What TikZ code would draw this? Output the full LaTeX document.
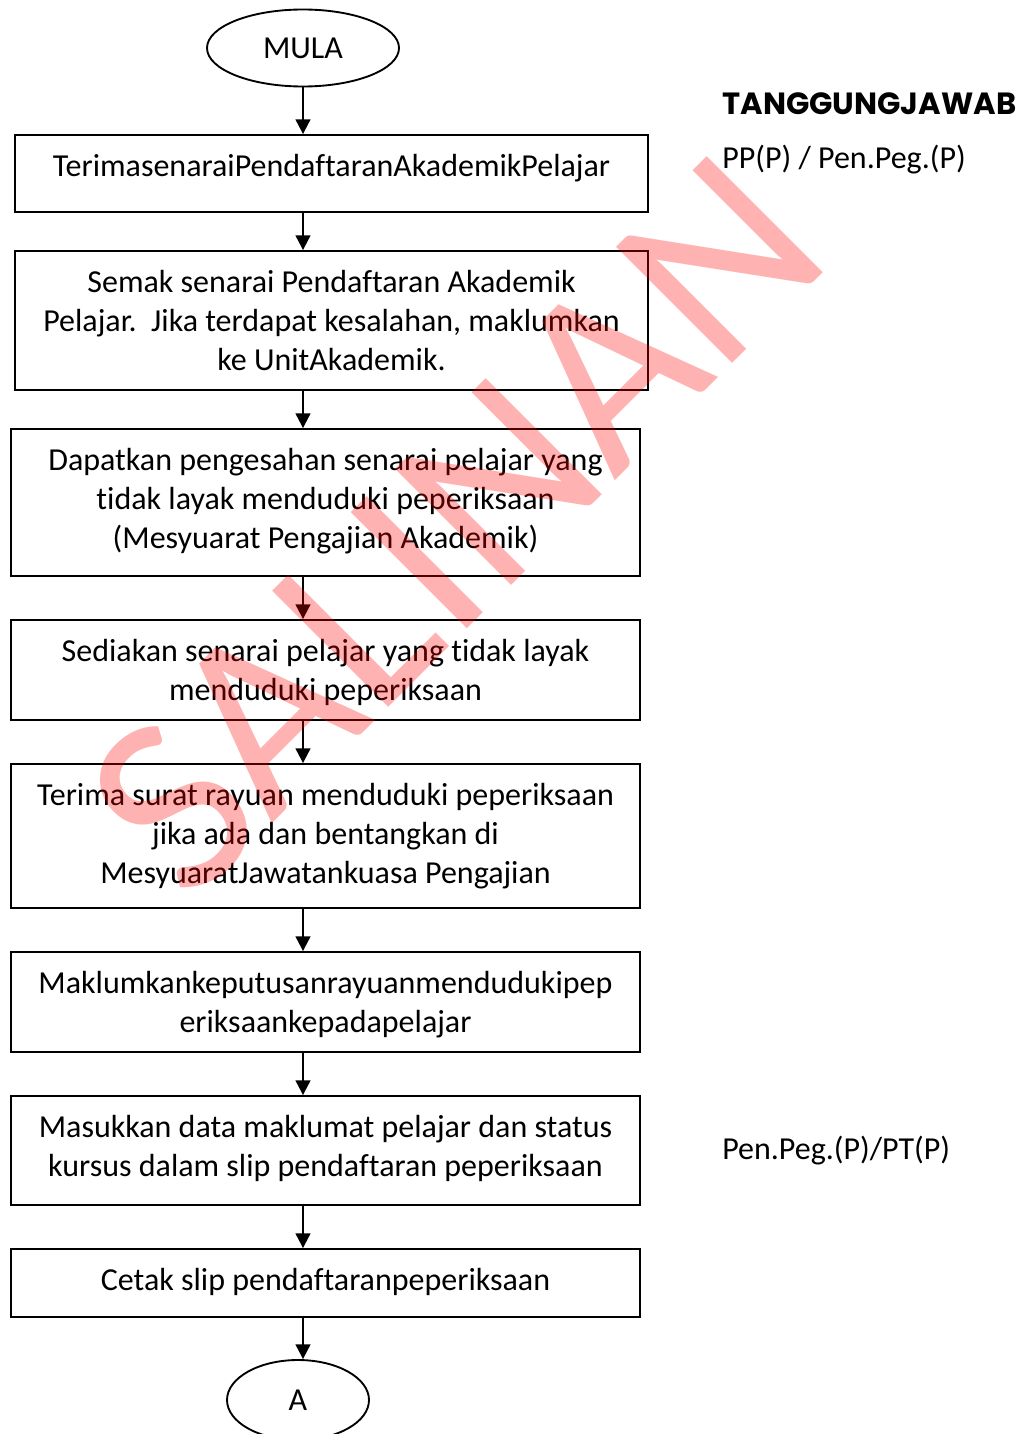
\documentclass[tikz,border=0pt]{standalone}
\usepackage{fontspec}
\setmainfont{Carlito}[Ligatures=NoCommon]
\newfontfamily\headfont{Poppins}
\usetikzlibrary{shapes.geometric,arrows.meta,calc,fit}
\begin{document}
\begin{tikzpicture}[x=0.75pt,y=-0.75pt,
  box/.style={draw, line width=1.4pt, inner sep=0pt},
  term/.style={draw, ellipse, line width=1.4pt, inner sep=0pt, font=\fontsize{24}{29.25}\selectfont},
  flow/.style={-{Triangle[length=11pt,width=11pt]}, line width=1.6pt},
  txt/.style={font=\fontsize{24}{29.25}\selectfont, inner sep=0pt, anchor=base},
  side/.style={font=\fontsize{24}{29.25}\selectfont, inner sep=0pt, anchor=base west},
  wmark/.style={text=red, text opacity=0.3, inner sep=0pt, font=\fontsize{192}{192}\selectfont}]
\useasboundingbox (0,0) rectangle (1023,1434);
\clip (0,0) rectangle (1023,1434);

\node[term, minimum width=144pt, minimum height=57.75pt] (m) at (303,48) {MULA};

\node[box, fit={(15,135)(648,212)}] (b1) {};
\node[box, fit={(15,251)(648,390)}] (b2) {};
\node[box, fit={(11,429)(640,576)}] (b3) {};
\node[box, fit={(11,620)(640,720)}] (b4) {};
\node[box, fit={(11,764)(640,908)}] (b5) {};
\node[box, fit={(11,952)(640,1052)}] (b6) {};
\node[box, fit={(11,1096)(640,1205)}] (b7) {};
\node[box, fit={(11,1249)(640,1317)}] (b8) {};

\node[term, minimum width=106.5pt, minimum height=60pt] (a) at (298,1400) {A};

\node[txt] (t1) at ($(b1.north)+(0,42)$) {\parbox[t]{500pt}{\centering TerimasenaraiPendaftaranAkademikPelajar}};
\node[txt] (t2) at ($(b2.north)+(0,42)$) {\parbox[t]{500pt}{\centering Semak senarai Pendaftaran Akademik\\Pelajar.\ \ Jika terdapat kesalahan, maklumkan\\ke UnitAkademik.}};
\node[txt] (t3) at ($(b3.north)+(0,42)$) {\parbox[t]{500pt}{\centering Dapatkan pengesahan senarai pelajar yang\\tidak layak menduduki peperiksaan\\(Mesyuarat Pengajian Akademik)}};
\node[txt] (t4) at ($(b4.north)+(0,42)$) {\parbox[t]{500pt}{\centering Sediakan senarai pelajar yang tidak layak\\menduduki peperiksaan}};
\node[txt] (t5) at ($(b5.north)+(0,42)$) {\parbox[t]{500pt}{\centering Terima surat rayuan menduduki peperiksaan\\jika ada dan bentangkan di\\MesyuaratJawatankuasa Pengajian}};
\node[txt] (t6) at ($(b6.north)+(0,42)$) {\parbox[t]{500pt}{\centering Maklumkankeputusanrayuanmendudukipep\\eriksaankepadapelajar}};
\node[txt] (t7) at ($(b7.north)+(0,42)$) {\parbox[t]{500pt}{\centering Masukkan data maklumat pelajar dan status\\kursus dalam slip pendaftaran peperiksaan}};
\node[txt] (t8) at ($(b8.north)+(0,42)$) {\parbox[t]{500pt}{\centering Cetak slip pendaftaranpeperiksaan}};

\draw[flow] (m.south) -- (b1.north -| m.south);
\draw[flow] (b1.south -| m.south) -- (b2.north -| m.south);
\draw[flow] (b2.south -| m.south) -- (b3.north -| m.south);
\draw[flow] (b3.south -| m.south) -- (b4.north -| m.south);
\draw[flow] (b4.south -| m.south) -- (b5.north -| m.south);
\draw[flow] (b5.south -| m.south) -- (b6.north -| m.south);
\draw[flow] (b6.south -| m.south) -- (b7.north -| m.south);
\draw[flow] (b7.south -| m.south) -- (b8.north -| m.south);
\draw[flow] (b8.south -| m.south) -- (a.north -| m.south);

\node[inner sep=0pt, anchor=base west, font=\headfont\bfseries\fontsize{23}{27}\selectfont] (h) at (722,115) {TANGGUNGJAWAB};
\node[side] (r1) at (722,169) {PP(P) / Pen.Peg.(P)};
\node[side] (r2) at (722,1159) {Pen.Peg.(P)/PT(P)};

\node[wmark, rotate=45] (w) at (455,525) {SALINAN};
\end{tikzpicture}
\end{document}
